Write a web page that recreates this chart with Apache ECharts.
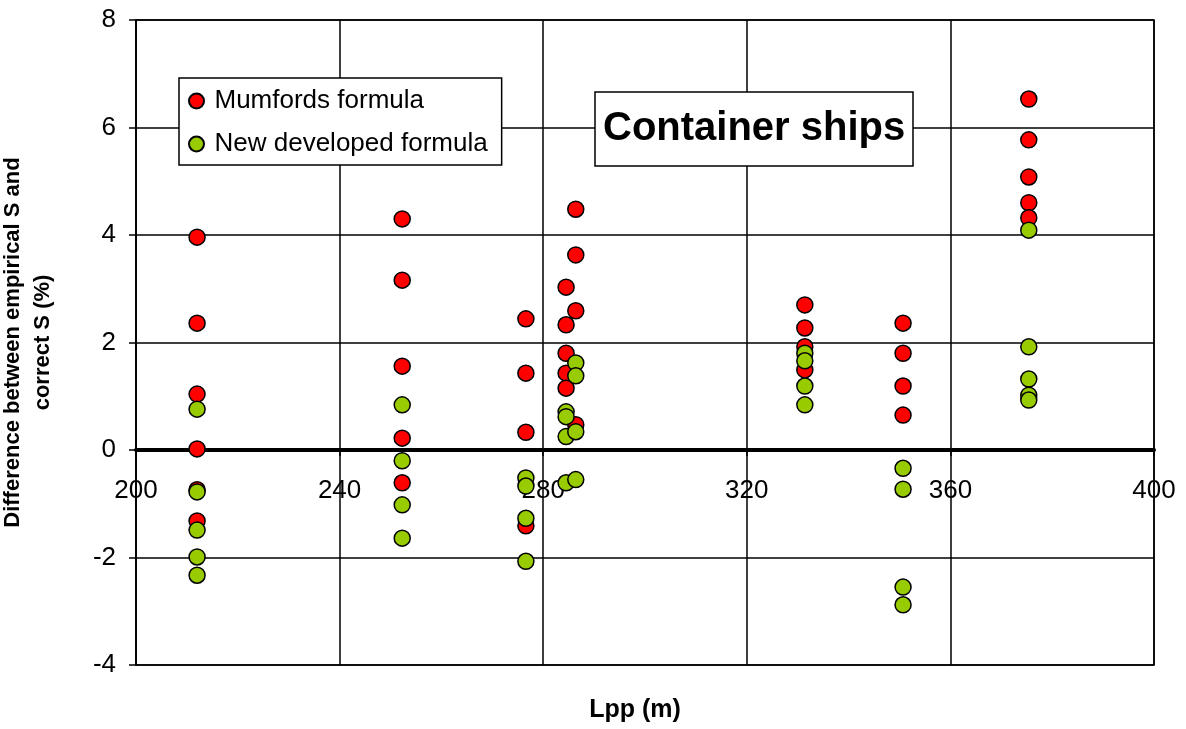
<!DOCTYPE html>
<html>
<head>
<meta charset="utf-8">
<script src="https://cdn.jsdelivr.net/npm/echarts@6/dist/echarts.min.js"></script>
<style>html,body{margin:0;padding:0;background:#fff;}#c{width:1186px;height:729px;}</style>
</head>
<body>
<div id="c"></div>
<script>
// Ship lengths Lpp (m) and difference (%) for each formula
var lppMumford = [212,212,212,212,212,212, 252.3,252.3,252.3,252.3,252.3, 276.6,276.6,276.6,276.6, 284.5,284.5,284.5,284.5,284.5, 286.4,286.4,286.4,286.4, 331.4,331.4,331.4,331.4, 350.7,350.7,350.7,350.7, 375.4,375.4,375.4,375.4,375.4];
var diffMumford = [3.96,2.36,1.04,0.02,-0.74,-1.32, 4.30,3.16,1.56,0.22,-0.61, 2.44,1.43,0.33,-1.41, 3.03,2.33,1.80,1.43,1.15, 4.48,3.63,2.59,0.47, 2.70,2.27,1.92,1.49, 2.36,1.80,1.19,0.65, 6.53,5.77,5.08,4.60,4.32];
var lppNew = [212,212,212,212,212, 252.3,252.3,252.3,252.3, 276.6,276.6,276.6,276.6, 284.5,284.5,284.5,284.5, 286.4,286.4,286.4,286.4, 331.4,331.4,331.4,331.4, 350.7,350.7,350.7,350.7, 375.4,375.4,375.4,375.4,375.4];
var diffNew = [0.76,-0.78,-1.49,-1.99,-2.33, 0.84,-0.20,-1.02,-1.64, -0.52,-0.67,-1.27,-2.07, 0.71,0.62,0.25,-0.61, 1.62,1.38,0.34,-0.55, 1.80,1.66,1.19,0.84, -0.34,-0.73,-2.55,-2.88, 4.09,1.92,1.32,1.02,0.93];
var seriesNames = ['Mumfords formula', 'New developed formula'];
var chartTitle = 'Container ships';
var xTitle = 'Lpp (m)';
var yTitle = 'Difference between empirical S and\ncorrect S (%)';

function pairs(xs, ys) { return xs.map(function (x, i) { return [x, ys[i]]; }); }

var font = '"Liberation Sans", Arial, sans-serif';
var chart = echarts.init(document.getElementById('c'));
chart.setOption({
  animation: false,
  backgroundColor: '#fff',
  textStyle: { fontFamily: font, color: '#000' },
  title: {
    text: chartTitle,
    left: 595, top: 92,
    padding: [17, 8, 17, 8],
    borderColor: '#000', borderWidth: 1.5, backgroundColor: '#fff',
    textStyle: { fontFamily: font, fontSize: 40, fontWeight: 'bold', color: '#000' }
  },
  legend: {
    orient: 'vertical',
    left: 179, top: 78,
    padding: [10, 14, 8, 9],
    itemGap: 17,
    itemWidth: 26, itemHeight: 15,
    borderColor: '#000', borderWidth: 1.5, backgroundColor: '#fff',
    textStyle: { fontFamily: font, fontSize: 26, color: '#000' },
    data: seriesNames.map(function (n) { return { name: n, icon: 'circle' }; })
  },
  grid: {
    left: 136, right: 32, top: 20, bottom: 64,
    outerBoundsMode: 'none', containLabel: false,
    show: true, borderColor: '#000', borderWidth: 1.5, backgroundColor: 'transparent'
  },
  xAxis: {
    type: 'value', min: 200, max: 400, interval: 40,
    position: 'bottom',
    axisLine: { onZero: false, lineStyle: { color: '#000', width: 4 } },
    axisTick: { show: true, length: 6, lineStyle: { color: '#000', width: 1.5 } },
    axisLabel: { fontFamily: font, fontSize: 26, color: '#000', margin: 28 },
    splitLine: { show: true, lineStyle: { color: '#000', width: 1.5 } }
  },
  yAxis: {
    type: 'value', min: -4, max: 8, interval: 2,
    name: yTitle, nameLocation: 'middle', nameGap: 78, nameRotate: 90,
    nameTextStyle: { fontFamily: font, fontSize: 22, fontWeight: 'bold', color: '#000', lineHeight: 30, align: 'center' },
    axisLine: { show: true, lineStyle: { color: '#000', width: 1.5 } },
    axisTick: { show: true, length: 7, lineStyle: { color: '#000', width: 1.5 } },
    axisLabel: { fontFamily: font, fontSize: 26, color: '#000', margin: 20 },
    splitLine: { show: true, lineStyle: { color: '#000', width: 1.5 } }
  },
  graphic: [{
    type: 'text', x: 635, y: 710,
    style: { text: xTitle, fontFamily: font, fontSize: 25, fontWeight: 'bold', fill: '#000', align: 'center', verticalAlign: 'middle' }
  }],
  series: [{
    name: seriesNames[0], type: 'scatter', symbol: 'circle', symbolSize: 16, z: 3,
    itemStyle: { color: '#FF0000', borderColor: '#000', borderWidth: 1.5, opacity: 1 },
    data: pairs(lppMumford, diffMumford)
  }, {
    name: seriesNames[1], type: 'scatter', symbol: 'circle', symbolSize: 16, z: 4,
    itemStyle: { color: '#99CC00', borderColor: '#000', borderWidth: 1.5, opacity: 1 },
    data: pairs(lppNew, diffNew)
  }]
});
// Move the x axis (line, ticks, labels) up to the y = 0 level, as in the reference
var yZero = chart.convertToPixel({ yAxisIndex: 0 }, 0);
var yBottom = chart.convertToPixel({ yAxisIndex: 0 }, -4);
chart.setOption({ xAxis: { offset: -(yBottom - yZero) } });
</script>
</body>
</html>
